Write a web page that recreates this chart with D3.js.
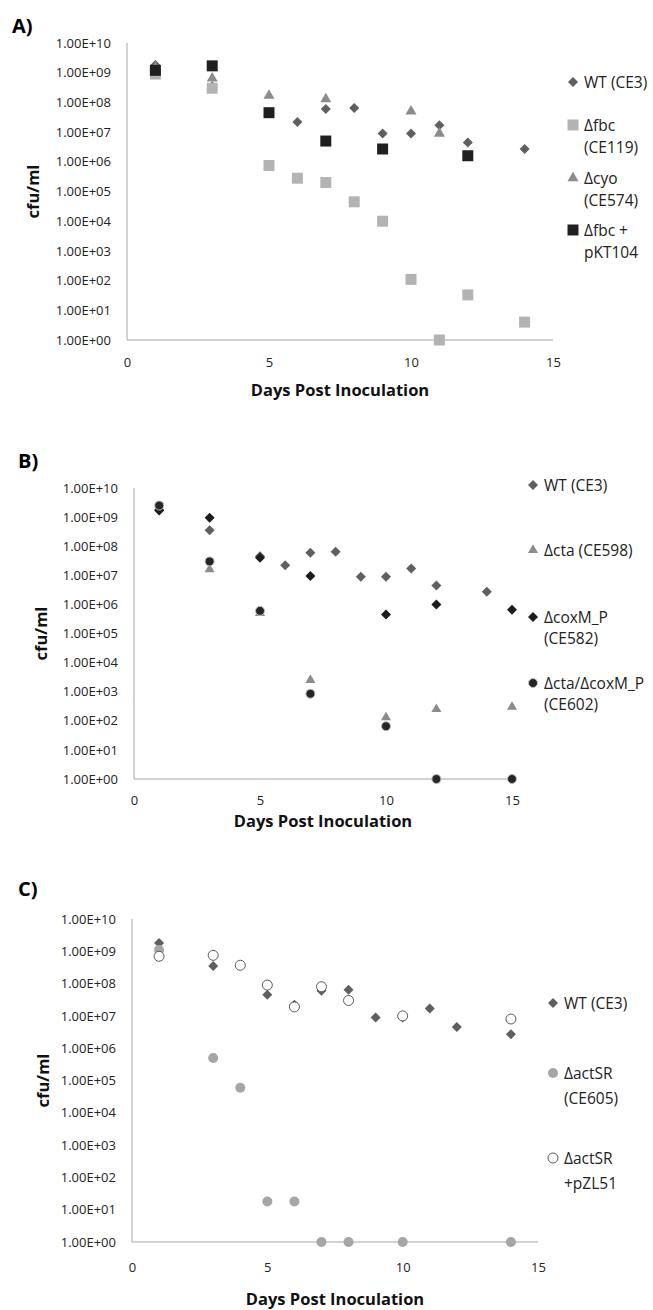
<!DOCTYPE html>
<html lang="en">
<head>
<meta charset="UTF-8">
<title>cfu/ml survival</title>
<script src="https://d3js.org/d3.v7.min.js"></script>
<style>
body { margin: 0; background: #fff; }
svg { display: block; font-family: "Open Sans", "Noto Sans", sans-serif; }
.axis path { stroke: #a6a6a6; }
.axis text { font-size: 13px; fill: #222; }
.title { font-weight: bold; font-size: 16.5px; fill: #111; }
.panel-label { font-weight: bold; font-size: 20px; fill: #000; }
.legend text { font-size: 15.5px; fill: #222; }
</style>
</head>
<body>
<script>
// ---- data (days post inoculation, cfu/ml) ----
var wtDays = [1, 3, 5, 6, 7, 8, 9, 10, 11, 12, 14];
var wtCfu  = [1.8e9, 3.5e8, 4.5e7, 2.2e7, 6e7, 6.5e7, 9e6, 9e6, 1.7e7, 4.5e6, 2.7e6];

// panel A
var fbcDays = [1, 3, 5, 6, 7, 8, 9, 10, 11, 12, 14];
var fbcCfu  = [9e8, 3e8, 7.5e5, 2.8e5, 2e5, 4.5e4, 1e4, 1.1e2, 1, 3.3e1, 4];
var cyoDays = [1, 3, 5, 7, 10, 11];
var cyoCfu  = [1.5e9, 6.5e8, 1.7e8, 1.3e8, 5e7, 9e6];
var fbcCompDays = [1, 3, 5, 7, 9, 12];
var fbcCompCfu  = [1.2e9, 1.7e9, 4.5e7, 5e6, 2.7e6, 1.6e6];

// panel B
var ctaDays = [3, 5, 7, 10, 12, 15];
var ctaCfu  = [1.6e7, 5e5, 2.5e3, 1.3e2, 2.5e2, 3e2];
var coxDays = [1, 3, 5, 7, 10, 12, 15];
var coxCfu  = [1.7e9, 9.5e8, 4e7, 9.5e6, 4.5e5, 1e6, 6.5e5];
var ctaCoxDays = [1, 3, 5, 7, 10, 12, 15];
var ctaCoxCfu  = [2.5e9, 3e7, 6e5, 8.5e2, 6.5e1, 1, 1];

// panel C
var actDays = [1, 3, 4, 5, 6, 7, 8, 10, 14];
var actCfu  = [1.1e9, 5e5, 6e4, 1.8e1, 1.8e1, 1, 1, 1, 1];
var actCompDays = [1, 3, 4, 5, 6, 7, 8, 10, 14];
var actCompCfu  = [7e8, 7.5e8, 3.7e8, 9e7, 1.9e7, 8e7, 3e7, 1e7, 8e6];

// ticks
var xTicks = [0, 5, 10, 15];
var yTicks = d3.range(0, 11).map(function(e){ return Math.pow(10, e); });

// ---- marker styles ----
var styles = {
  wt:     {shape: 'diamond',  size: 10, fill: '#5f5f5f'},
  lsq:    {shape: 'square',   size: 11, fill: '#b3b3b3'},
  tri:    {shape: 'triangle', size: 11, fill: '#8c8c8c'},
  dsq:    {shape: 'square',   size: 11, fill: '#202020'},
  bdia:   {shape: 'diamond',  size: 10, fill: '#1c1c1c'},
  btri:   {shape: 'triangle', size: 10, fill: '#8c8c8c'},
  bcirc:  {shape: 'circle',   size: 9,  fill: '#262626', stroke: '#bdbdbd'},
  gcirc:  {shape: 'circle',   size: 10, fill: '#a6a6a6'},
  ocirc:  {shape: 'circle',   size: 10, fill: '#fff', stroke: '#595959'},
  cdia:   {shape: 'diamond',  size: 10, fill: '#5f5f5f'}
};

function symPath(st) {
  var w = st.size;
  if (st.shape === 'square') return d3.symbol(d3.symbolSquare, w * w)();
  if (st.shape === 'diamond') return d3.symbol(d3.symbolSquare, w * w / 2)();
  if (st.shape === 'triangle') return d3.symbol(d3.symbolTriangle, w * w * Math.sqrt(3) / 4)();
  return d3.symbol(d3.symbolCircle, Math.PI * w * w / 4)();
}

function drawMark(g, st, x, y) {
  g.append('path')
    .attr('d', symPath(st))
    .attr('transform', 'translate(' + x + ',' + y + ')' + (st.shape === 'diamond' ? ' rotate(45)' : ''))
    .attr('fill', st.fill)
    .attr('stroke', st.stroke || 'none')
    .attr('stroke-width', st.stroke ? 1 : 0);
}

var panels = [
  {
    label: 'A)', lx: 12, ly: 25,
    left: 127, right: 553, top: 43, bottom: 340,
    cfuX: 32, tickDy: 22, titleY: 389,
    series: [
      {days: wtDays, cfu: wtCfu, st: styles.wt, name: ['WT (CE3)']},
      {days: fbcDays, cfu: fbcCfu, st: styles.lsq, name: ['\u0394fbc', '(CE119)']},
      {days: cyoDays, cfu: cyoCfu, st: styles.tri, name: ['\u0394cyo', '(CE574)']},
      {days: fbcCompDays, cfu: fbcCompCfu, st: styles.dsq, name: ['\u0394fbc +', 'pKT104']}
    ],
    legX: 573, legY: [82, 125, 178, 230], legLH: 22
  },
  {
    label: 'B)', lx: 18, ly: 460,
    left: 134, right: 512, top: 488, bottom: 779,
    cfuX: 40, tickDy: 21, titleY: 820,
    series: [
      {days: wtDays, cfu: wtCfu, st: styles.wt, name: ['WT (CE3)']},
      {days: ctaDays, cfu: ctaCfu, st: styles.btri, name: ['\u0394cta (CE598)']},
      {days: coxDays, cfu: coxCfu, st: styles.bdia, name: ['\u0394coxM_P', '(CE582)']},
      {days: ctaCoxDays, cfu: ctaCoxCfu, st: styles.bcirc, name: ['\u0394cta/\u0394coxM_P', '(CE602)']}
    ],
    legX: 533, legY: [485, 550, 617, 683], legLH: 21
  },
  {
    label: 'C)', lx: 18, ly: 888,
    left: 132, right: 538, top: 919, bottom: 1242,
    cfuX: 42, tickDy: 25, titleY: 1298,
    series: [
      {days: wtDays, cfu: wtCfu, st: styles.cdia, name: ['WT (CE3)']},
      {days: actDays, cfu: actCfu, st: styles.gcirc, name: ['\u0394actSR', '(CE605)']},
      {days: actCompDays, cfu: actCompCfu, st: styles.ocirc, name: ['\u0394actSR', '+pZL51']}
    ],
    legX: 553, legY: [1003, 1073, 1158], legLH: 25
  }
];

var svg = d3.select('body').append('svg')
  .attr('width', 653)
  .attr('height', 1310);

panels.forEach(function(p) {
  var x = d3.scaleLinear().domain([0, 15]).range([p.left, p.right]);
  var y = d3.scaleLog().domain([1, 1e10]).range([p.bottom, p.top]);

  svg.append('text').attr('class', 'panel-label')
    .attr('x', p.lx).attr('y', p.ly).attr('dominant-baseline', 'central')
    .text(p.label);

  // y axis
  var ya = svg.append('g').attr('class', 'axis')
    .attr('transform', 'translate(' + p.left + ',0)')
    .call(d3.axisLeft(y).tickValues(yTicks).tickSize(0).tickPadding(16)
      .tickFormat(function(d){ var e = Math.round(Math.log10(d)); return '1.00E+' + (e < 10 ? '0' : '') + e; }));
  ya.select('.domain').attr('d', 'M0,' + p.top + 'V' + p.bottom);

  // x axis
  var xa = svg.append('g').attr('class', 'axis')
    .attr('transform', 'translate(0,' + p.bottom + ')')
    .call(d3.axisBottom(x).tickValues(xTicks).tickSize(0).tickPadding(p.tickDy - 8));
  xa.select('.domain').attr('d', 'M' + p.left + ',0H' + p.right);
  xa.selectAll('text').attr('dy', null).attr('dominant-baseline', 'central').attr('y', p.tickDy);
  svg.selectAll('.axis text').attr('font-family', null);
  svg.selectAll('.axis').attr('font-size', null).attr('font-family', null);

  // titles
  svg.append('text').attr('class', 'title')
    .attr('x', (p.left + p.right) / 2).attr('y', p.titleY)
    .attr('text-anchor', 'middle').attr('dominant-baseline', 'central')
    .text('Days Post Inoculation');
  svg.append('text').attr('class', 'title')
    .attr('transform', 'translate(' + p.cfuX + ',' + ((p.top + p.bottom) / 2) + ') rotate(-90)')
    .attr('text-anchor', 'middle').attr('dominant-baseline', 'central')
    .text('cfu/ml');

  // points
  var g = svg.append('g');
  p.series.forEach(function(s) {
    s.days.forEach(function(d, i) {
      drawMark(g, s.st, x(d), y(s.cfu[i]));
    });
  });

  // legend
  var lg = svg.append('g').attr('class', 'legend');
  p.series.forEach(function(s, k) {
    var ly = p.legY[k];
    drawMark(lg, s.st, p.legX, ly);
    var t = lg.append('text').attr('x', p.legX + 11).attr('y', ly).attr('dominant-baseline', 'central');
    s.name.forEach(function(line, j) {
      t.append('tspan').attr('x', p.legX + 11).attr('y', ly + j * p.legLH).text(line);
    });
  });
});
</script>
</body>
</html>
